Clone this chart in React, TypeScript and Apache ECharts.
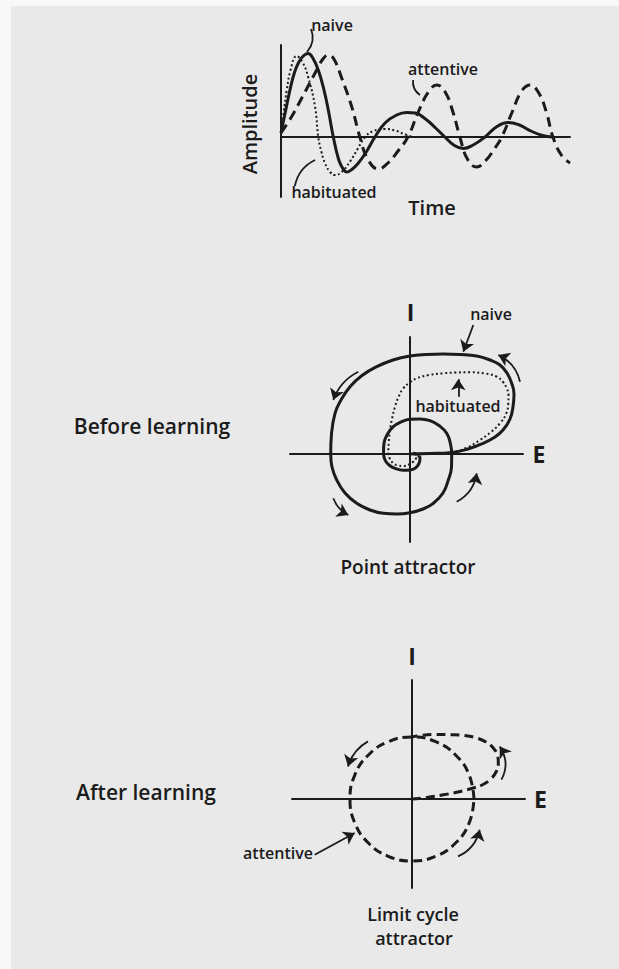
import React, { useEffect, useRef } from "react";
import * as echarts from "echarts";

type Pt = [number, number];

// ---- Amplitude over time (t, amplitude) ----
const naiveWave: Pt[] = [
  [0, 0.4], [1.5, 2.5], [3.1, 4.7], [4.5, 6.3], [6, 7.4], [7.7, 8.1], [9.4, 8.35], [11, 7.9],
  [12.9, 6.7], [14.8, 4.8], [16.5, 2.5], [18.1, 0], [20, -2.3], [21.5, -3.2], [22.7, -3.5],
  [24.5, -3.25], [26.5, -2.7], [29.5, -1.5], [32.5, 0], [36, 1.4], [40, 2.2], [43.5, 2.45],
  [46.4, 2.4], [50, 1.8], [53.5, 0.9], [56.7, 0], [60, -0.85], [63.1, -1.15], [66.5, -0.8],
  [70.6, 0], [74.5, 1.0], [78.5, 1.45], [82.5, 1.2], [86.5, 0.6], [90.5, 0.15], [94, 0],
];
const attentiveWave: Pt[] = [
  [0, 0.4], [3.6, 2.0], [7.2, 3.9], [11.8, 6.4], [14.5, 7.8], [16.4, 8.2], [18.3, 7.8], [21, 5.9],
  [24.5, 3.0], [27.3, 0], [30, -2.2], [33.7, -3.2], [37, -2.6], [40.5, -1.4], [43.9, 0], [47.5, 2.5],
  [51, 4.5], [53.9, 5.2], [56.8, 4.5], [59.5, 2.5], [61.9, 0], [64.5, -2.2], [67.7, -3.0], [71, -2.3],
  [73.8, -1.2], [76.4, 0], [80, 2.5], [83.3, 4.6], [86.2, 5.2], [89.2, 4.4], [91.8, 2.5], [94.1, 0],
  [97, -1.8], [100, -2.6],
];
const habituatedWave: Pt[] = [
  [0, 0.4], [1, 2.6], [2, 4.7], [3.3, 6.7], [5.4, 8.1], [7.4, 7.5], [9.4, 6.0], [11.8, 3.0],
  [12.9, 0], [14, -1.5], [15.2, -2.6], [17, -3.5], [18.7, -3.8], [21, -3.5], [24, -2.4],
  [26.5, -1.2], [29.1, 0], [32, 0.6], [36, 0.8], [40, 0.6], [43, 0.25], [46.4, 0], [60, 0],
  [80, 0], [99, 0],
];

// ---- Phase portrait before learning (E, I) ----
const naiveSpiral: Pt[] = [
  [0, 0], [2, 0.05], [4, 0.13], [5.8, 0.5], [7.3, 1.07], [8.5, 1.7], [9.3, 2.4], [10.0, 3.5],
  [10.3, 4.73], [10.4, 6.0], [10.17, 7.07], [9.7, 8.1], [9.0, 8.9], [8.0, 9.4], [6.67, 9.8],
  [5, 9.95], [3.33, 10.0], [1.6, 9.95], [0, 9.8], [-1.7, 9.4], [-3.33, 8.73], [-4.8, 7.85],
  [-6.0, 6.73], [-6.9, 5.4], [-7.5, 4.07], [-7.85, 2.0], [-7.93, 0], [-7.8, -1.3], [-7.33, -2.6],
  [-6.5, -3.9], [-5.33, -4.93], [-4.0, -5.6], [-2.67, -5.93], [-1.3, -6.0], [0, -5.87],
  [1.3, -5.5], [2.33, -4.93], [3.3, -3.9], [3.83, -2.6], [4.15, -1.3], [4.17, 0], [4.05, 1.0],
  [3.67, 2.07], [2.9, 2.85], [2.0, 3.33], [1.0, 3.5], [0, 3.47], [-0.9, 3.2], [-1.67, 2.73],
  [-2.25, 2.0], [-2.6, 1.07], [-2.65, 0.2], [-2.5, -0.6], [-2.1, -1.1], [-1.5, -1.43],
  [-0.7, -1.62], [0, -1.6], [0.55, -1.4], [0.9, -0.95], [1.0, -0.43], [0.75, -0.05], [0.33, 0.07],
];
const habituatedSpiral: Pt[] = [
  [0, 0], [2, 0.05], [4.0, 0.13], [5.6, 0.6], [7.0, 1.4], [8.1, 2.2], [9.0, 3.07], [9.6, 4.0],
  [9.83, 5.07], [9.85, 5.9], [9.67, 6.57], [9.3, 7.2], [8.67, 7.73], [7.5, 8.05], [6.0, 8.17],
  [4.6, 8.15], [3.33, 8.07], [1.9, 7.9], [0.67, 7.57], [-0.1, 7.1], [-0.67, 6.57], [-1.15, 5.7],
  [-1.5, 4.73], [-1.8, 3.5], [-2.0, 2.4], [-2.12, 1.2], [-2.17, 0.07], [-2.0, -0.5],
  [-1.67, -0.93], [-1.2, -1.15], [-0.67, -1.2], [-0.1, -1.05], [0.33, -0.77], [0.6, -0.45],
  [0.67, -0.2], [0.45, -0.03], [0.2, 0],
];

// ---- Phase portrait after learning (E, I) ----
const limitCycle: Pt[] = [
  [6.2, 0], [5.73, 2.37], [4.38, 4.38], [2.37, 5.73], [0, 6.2], [-2.37, 5.73], [-4.38, 4.38],
  [-5.73, 2.37], [-6.2, 0], [-5.73, -2.37], [-4.38, -4.38], [-2.37, -5.73], [0, -6.2],
  [2.37, -5.73], [4.38, -4.38], [5.73, -2.37], [6.2, 0],
];
const attentiveApproach: Pt[] = [
  [0, 0], [1.5, 0.15], [3.0, 0.4], [4.6, 0.7], [6.13, 1.1], [7.1, 1.45], [7.8, 1.93], [8.4, 2.7],
  [8.63, 3.6], [8.55, 4.4], [8.13, 5.1], [7.4, 5.7], [6.47, 6.1], [5.2, 6.35], [3.8, 6.43],
  [2.3, 6.45], [0.8, 6.35], [0, 6.2],
];

// Pointers and flow-direction arrows: [from, to, curveness]
type Arrow = [Pt, Pt, number];
const waveLeaders: Arrow[] = [
  [[10.4, 10.8], [9.0, 8.5], 0.3],
  [[45.7, 5.7], [48.1, 4.2], -0.3],
  [[11.8, -2.3], [4.8, -4.9], -0.25],
];
const spiralArrows: Arrow[] = [
  [[-5.17, 8.23], [-7.67, 5.4], -0.2],
  [[-7.67, -4.43], [-6.17, -6.1], -0.2],
  [[4.67, -4.77], [6.67, -1.93], -0.25],
  [[11.0, 7.23], [8.83, 9.9], -0.25],
  [[6.33, 12.9], [5.33, 10.23], 0],
  [[4.83, 5.73], [4.83, 7.47], 0],
];
const cycleArrows: Arrow[] = [
  [[-4.4, 5.76], [-6.4, 3.26], -0.2],
  [[8.94, 1.93], [8.77, 5.26], -0.3],
  [[4.6, -5.74], [6.77, -3.07], -0.25],
  [[-9.73, -5.57], [-5.73, -3.4], 0],
];

const INK = "#1b1b1b";
const FONT = '"Open Sans", "Noto Sans", sans-serif';

const hiddenAxis = (gridIndex: number, min: number, max: number) => ({
  type: "value" as const,
  gridIndex,
  min,
  max,
  axisLine: { show: true, onZero: true, lineStyle: { color: INK, width: 2 } },
  axisTick: { show: false },
  axisLabel: { show: false },
  splitLine: { show: false },
});

const label = (
  text: string,
  x: number,
  y: number,
  size: number,
  weight: number | string = 600,
  rotation = 0
) => ({
  type: "text",
  x,
  y,
  rotation,
  z: 10,
  style: {
    text,
    fill: INK,
    fontSize: size,
    fontWeight: weight,
    fontFamily: FONT,
    lineHeight: size,
    align: "center",
    verticalAlign: "middle",
    textAlign: "center",
    textVerticalAlign: "middle",
  },
});

const curve = (
  data: Pt[],
  axis: number,
  width: number,
  type: "solid" | number[],
  z: number
) => ({
  type: "line",
  xAxisIndex: axis,
  yAxisIndex: axis,
  data,
  smooth: 0.45,
  showSymbol: false,
  symbol: "none",
  clip: false,
  z,
  lineStyle: { color: INK, width, type, cap: "butt", join: "round" },
});

const arrows = (items: Arrow[], axis: number, head: boolean) => ({
  type: "lines",
  coordinateSystem: "cartesian2d",
  xAxisIndex: axis,
  yAxisIndex: axis,
  clip: false,
  z: 6,
  symbol: head ? ["none", "arrow"] : ["none", "none"],
  symbolSize: 11,
  lineStyle: { color: INK, width: 1.8, opacity: 1, curveness: 0 },
  data: items.map(([from, to, c]) => ({ coords: [from, to], lineStyle: { curveness: c } })),
});

export default function App() {
  const ref = useRef<HTMLDivElement>(null);

  useEffect(() => {
    if (!ref.current) return;
    const chart = echarts.init(ref.current, null, { renderer: "svg" });
    chart.setOption({
      animation: false,
      backgroundColor: "#e9e9e9",
      grid: [
        { left: 281, top: 45, width: 289, height: 152 },
        { left: 290, top: 337, width: 233, height: 205 },
        { left: 292, top: 680, width: 233, height: 208 },
      ],
      xAxis: [hiddenAxis(0, 0, 100), hiddenAxis(1, -12, 11.3), hiddenAxis(2, -12, 11.3)],
      yAxis: [hiddenAxis(0, -6, 9.2), hiddenAxis(1, -8.8, 11.7), hiddenAxis(2, -8.9, 11.9)],
      series: [
        curve(habituatedWave, 0, 2, [2, 2.5], 3),
        curve(attentiveWave, 0, 3, [10, 6], 4),
        curve(naiveWave, 0, 3, "solid", 5),
        arrows(waveLeaders, 0, false),
        curve(habituatedSpiral, 1, 2, [2, 2.6], 3),
        curve(naiveSpiral, 1, 3, "solid", 5),
        arrows(spiralArrows, 1, true),
        curve(attentiveApproach, 2, 3, [9, 5], 4),
        curve(limitCycle, 2, 3, [9, 5], 4),
        arrows(cycleArrows, 2, true),
      ],
      graphic: [
        { type: "rect", shape: { x: 0, y: 0, width: 11, height: 969 }, style: { fill: "#f8f8f8" } },
        { type: "rect", shape: { x: 0, y: 0, width: 619, height: 6 }, style: { fill: "#f8f8f8" } },
        label("naive", 332, 25, 16),
        label("attentive", 443, 69, 16),
        label("habituated", 334, 192, 16),
        label("Amplitude", 249, 124, 20, 600, Math.PI / 2),
        label("Time", 432, 207, 20, 600),
        label("I", 410.5, 312, 23, 700),
        label("E", 539, 453.5, 23, 700),
        label("naive", 491, 314, 16),
        label("habituated", 458, 406, 16),
        label("Before learning", 152, 426, 21, 600),
        label("Point attractor", 408, 566.5, 19, 600),
        label("I", 412, 656, 23, 700),
        label("E", 540.5, 799, 23, 700),
        label("After learning", 146, 792, 21, 600),
        label("attentive", 278, 853, 16),
        label("Limit cycle", 413, 914, 18, 600),
        label("attractor", 414, 938, 18, 600),
      ],
    });
    return () => chart.dispose();
  }, []);

  return (
    <div
      ref={ref}
      style={{ position: "fixed", left: 0, top: 0, width: 619, height: 969 }}
    />
  );
}
